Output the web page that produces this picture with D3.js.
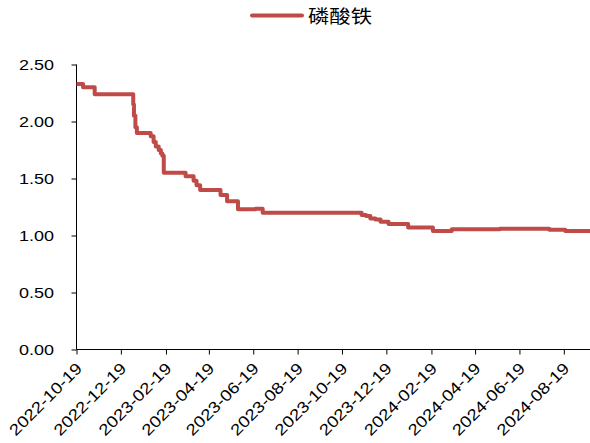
<!DOCTYPE html>
<html><head><meta charset="utf-8">
<script src="https://cdn.jsdelivr.net/npm/d3@7"></script>
<style>body{margin:0;background:#fff}svg{display:block}</style>
</head><body>
<svg id="c" width="590" height="443"></svg>
<script>
const seriesName = "磷酸铁";
const dates = ["2022-10-19","2022-10-28","2022-11-13","2023-01-05","2023-01-06","2023-01-08","2023-01-10","2023-01-29","2023-02-02","2023-02-05","2023-02-09","2023-02-12","2023-02-14","2023-02-16","2023-03-18","2023-03-29","2023-04-02","2023-04-07","2023-05-05","2023-05-14","2023-05-29","2023-06-22","2023-07-02","2023-11-15","2023-11-21","2023-11-27","2023-12-04","2023-12-11","2023-12-22","2024-01-18","2024-02-21","2024-03-18","2024-05-23","2024-07-30","2024-08-21","2024-09-24"];
const values = [2.33,2.30,2.24,2.15,2.05,1.95,1.90,1.87,1.82,1.78,1.75,1.72,1.70,1.55,1.52,1.48,1.44,1.40,1.355,1.30,1.23,1.235,1.20,1.18,1.17,1.15,1.14,1.12,1.10,1.07,1.04,1.055,1.06,1.05,1.04,1.04];
const xTickLabels = ["2022-10-19","2022-12-19","2023-02-19","2023-04-19","2023-06-19","2023-08-19","2023-10-19","2023-12-19","2024-02-19","2024-04-19","2024-06-19","2024-08-19"];
const yTicks = [0,0.5,1,1.5,2,2.5];
const domainStart = "2022-10-19", domainEnd = "2024-09-24";

const parse = d3.timeParse("%Y-%m-%d");
const data = dates.map((d,i)=>({date:parse(d), value:values[i]}));
const svg = d3.select("#c");
const color = "#BE4B48";
const x = d3.scaleTime().domain([parse(domainStart), parse(domainEnd)]).range([76.5, 590]);
const y = d3.scaleLinear().domain([0,2.5]).range([349.5, 64.5]);

// y axis
const ya = svg.append("g").attr("transform","translate(76.5,0)")
  .call(d3.axisLeft(y).tickValues(yTicks).tickSize(5).tickFormat(d3.format(".2f")));
ya.select(".domain").attr("stroke","#000").attr("d","M0,64.5V349.5");
ya.selectAll(".tick line").attr("stroke","#000");
ya.selectAll("text").attr("font-family","Liberation Sans, Arial, sans-serif").attr("font-size",15)
  .attr("fill","#000").attr("x",-22.5).attr("text-anchor","end")
  .attr("textLength",35).attr("lengthAdjust","spacingAndGlyphs");

// x axis
const xa = svg.append("g").attr("transform","translate(0,349.5)")
  .call(d3.axisBottom(x).tickValues(xTickLabels.map(parse)).tickSize(5).tickFormat(d3.timeFormat("%Y-%m-%d")));
xa.select(".domain").attr("stroke","#000").attr("d","M76.5,0H590");
xa.selectAll(".tick line").attr("stroke","#000");
xa.selectAll("text").attr("font-family","Liberation Sans, Arial, sans-serif").attr("font-size",16)
  .attr("fill","#000").attr("text-anchor","end").attr("dy",null).attr("y",null)
  .attr("transform","translate(6,20) rotate(-45)")
  .attr("textLength",95).attr("lengthAdjust","spacingAndGlyphs");

// line
const line = d3.line().x(d=>x(d.date)).y(d=>y(d.value)).curve(d3.curveStepAfter);
svg.append("path").datum(data).attr("d",line).attr("fill","none")
  .attr("stroke",color).attr("stroke-width",4).attr("stroke-linejoin","round");

// legend
svg.append("line").attr("x1",252).attr("x2",302).attr("y1",15.5).attr("y2",15.5)
  .attr("stroke",color).attr("stroke-width",4).attr("stroke-linecap","round");
svg.append("text").attr("x",308).attr("y",23).text(seriesName)
  .attr("font-family","Noto Sans CJK SC, sans-serif").attr("font-size",18).attr("fill","#000")
  .attr("textLength",64).attr("lengthAdjust","spacingAndGlyphs");
</script>
</body></html>
